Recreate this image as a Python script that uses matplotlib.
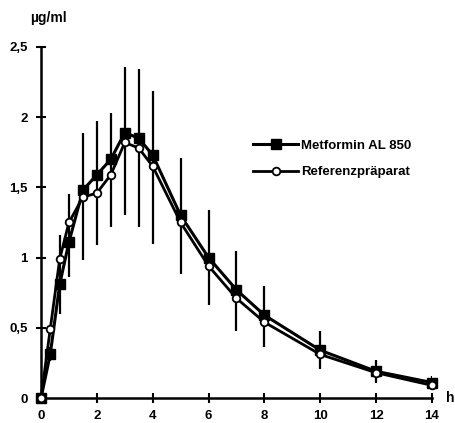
import matplotlib
matplotlib.use("Agg")
import matplotlib.pyplot as plt
import numpy as np

plt.rcParams['font.family'] = ['Liberation Sans', 'DejaVu Sans']

time_h = [0, 0.33, 0.67, 1, 1.5, 2, 2.5, 3, 3.5, 4, 5, 6, 7, 8, 10, 12, 14]
metformin = [0, 0.31, 0.81, 1.11, 1.48, 1.59, 1.70, 1.89, 1.85, 1.73, 1.30, 1.00, 0.77, 0.59, 0.34, 0.19, 0.11]
referenz = [0, 0.49, 0.99, 1.25, 1.43, 1.46, 1.59, 1.82, 1.78, 1.65, 1.25, 0.94, 0.71, 0.54, 0.31, 0.18, 0.09]
err_top = [0, 0.36, 1.16, 1.45, 1.89, 1.97, 2.03, 2.36, 2.34, 2.19, 1.71, 1.34, 1.05, 0.80, 0.48, 0.27, 0.16]
err_bottom = [0, 0.26, 0.60, 0.86, 0.98, 1.09, 1.22, 1.30, 1.22, 1.10, 0.88, 0.66, 0.48, 0.36, 0.21, 0.11, 0.06]

x_ticks = [0, 2, 4, 6, 8, 10, 12, 14]
y_ticks = [0, 0.5, 1, 1.5, 2, 2.5]
y_tick_labels = ['0', '0,5', '1', '1,5', '2', '2,5']
series_labels = ['Metformin AL 850', 'Referenzpräparat']

fig = plt.figure(figsize=(4.56, 4.23), dpi=100)
ax = fig.add_axes([41/456, 1-398/423, (432-41)/456, (398-47)/423])

ax.vlines(time_h, err_bottom, err_top, color='black', lw=1.6, zorder=1)

ax.plot(time_h, metformin, color='black', lw=2.2, marker='s', ms=6.5,
        mfc='black', mec='black', label=series_labels[0], clip_on=False, zorder=3)
ax.plot(time_h, referenz, color='black', lw=2.0, marker='o', ms=5.5,
        mfc='white', mec='black', mew=1.3, label=series_labels[1], clip_on=False, zorder=4)

ax.set_xlim(0, 14)
ax.set_ylim(0, 2.5)
ax.set_xticks(x_ticks)
ax.set_xticklabels([str(t) for t in x_ticks])
ax.set_yticks(y_ticks)
ax.set_yticklabels(y_tick_labels)
for s in ['top', 'right']:
    ax.spines[s].set_visible(False)
for s in ['left', 'bottom']:
    ax.spines[s].set_linewidth(1.8)
ax.tick_params(direction='inout', length=7, width=1.5, labelsize=9.5)
ax.tick_params(axis='x', pad=5)
ax.tick_params(axis='y', pad=6)
for lbl in ax.get_xticklabels() + ax.get_yticklabels():
    lbl.set_fontweight('bold')

fig.text(30/456, 1-18/423, 'µg/ml', fontsize=10, fontweight='bold', ha='left', va='center')
fig.text(446/456, 1-398/423, 'h', fontsize=10, fontweight='bold', ha='left', va='center')

leg = ax.legend(loc='upper left', bbox_to_anchor=(248/456, 1-134/423), bbox_transform=fig.transFigure,
                frameon=False, fontsize=9.5, handlelength=3.4, handletextpad=0.2,
                labelspacing=1.1, borderaxespad=0)
for t in leg.get_texts():
    t.set_fontweight('bold')

fig.savefig('out.png', dpi=100)
